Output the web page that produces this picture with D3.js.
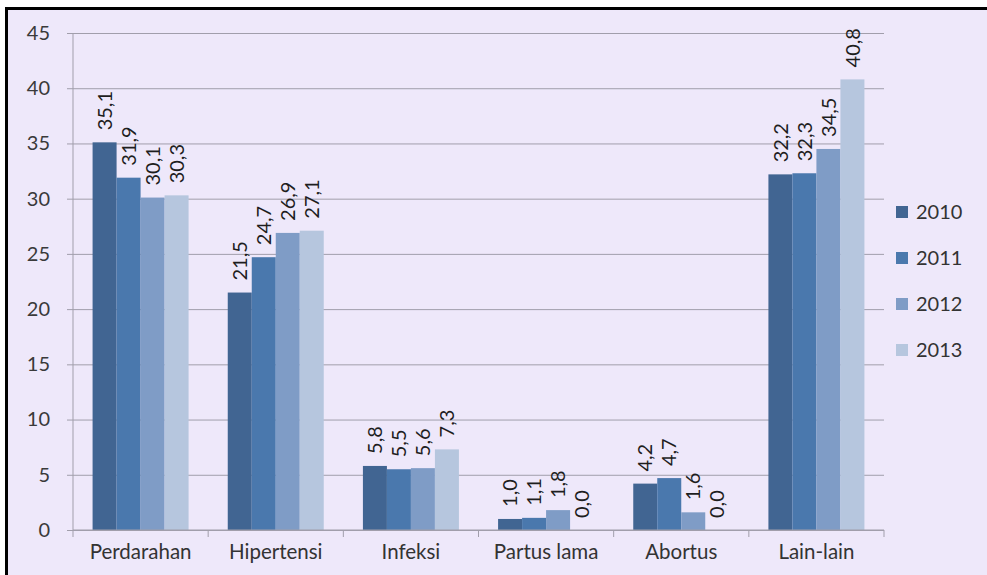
<!DOCTYPE html>
<html>
<head>
<meta charset="utf-8">
<script src="https://cdn.jsdelivr.net/npm/d3@7"></script>
<style>
  html, body { margin: 0; padding: 0; background: #ffffff; }
  svg { display: block; }
  text { font-family: Lato, "Open Sans", sans-serif; }
</style>
</head>
<body>
<svg id="chart" width="987" height="575"></svg>
<script>
const categories = ["Perdarahan", "Hipertensi", "Infeksi", "Partus lama", "Abortus", "Lain-lain"];
const years = ["2010", "2011", "2012", "2013"];
const values2010 = [35.1, 21.5, 5.8, 1.0, 4.2, 32.2];
const values2011 = [31.9, 24.7, 5.5, 1.1, 4.7, 32.3];
const values2012 = [30.1, 26.9, 5.6, 1.8, 1.6, 34.5];
const values2013 = [30.3, 27.1, 7.3, 0.0, 0.0, 40.8];
const yTicks = [0, 5, 10, 15, 20, 25, 30, 35, 40, 45];
const colors = ["#416592", "#4a78ad", "#7f9cc6", "#b6c6de"];

const seriesValues = [values2010, values2011, values2012, values2013];

(function () {
const svg = d3.select("#chart");

// frame + background
svg.append("rect").attr("x", 5).attr("y", 7).attr("width", 990).attr("height", 580)
  .attr("fill", "#eee8fa");
svg.append("line").attr("x1", 6.5).attr("x2", 6.5).attr("y1", 7).attr("y2", 575)
  .attr("stroke", "#000").attr("stroke-width", 3);
svg.append("line").attr("x1", 5).attr("x2", 987).attr("y1", 8.5).attr("y2", 8.5)
  .attr("stroke", "#000").attr("stroke-width", 3);

const mLeft = 73, mRight = 884, mTop = 33, mBottom = 530;

const y = d3.scaleLinear().domain([0, 45]).range([mBottom, mTop]);
const x0 = d3.scaleBand().domain(categories).range([mLeft, mRight]).paddingInner(0).paddingOuter(0);
const bw = x0.bandwidth();
const groupW = 96;
const x1 = d3.scaleBand().domain(years).range([(bw - groupW) / 2, (bw + groupW) / 2]).padding(0);

const gridColor = "#a19eab";

// gridlines via y axis
const yAxis = d3.axisLeft(y).tickValues(yTicks).tickSize(-(mRight - mLeft)).tickSizeOuter(0)
  .tickFormat(d3.format("d"));
const gy = svg.append("g").attr("transform", `translate(${mLeft},0)`).call(yAxis);
gy.select(".domain").remove();
gy.selectAll(".tick line").attr("stroke", gridColor).attr("stroke-width", 1)
  .attr("x1", -6);
gy.selectAll(".tick text").attr("fill", "#3a3a3a").style("font-size", "20px")
  .attr("text-anchor", "end").attr("x", -23);
// y axis line
svg.append("line").attr("x1", mLeft).attr("x2", mLeft).attr("y1", mTop).attr("y2", mBottom)
  .attr("stroke", gridColor);

// bars
const groups = svg.append("g").selectAll("g").data(categories).join("g")
  .attr("transform", d => `translate(${x0(d)},0)`);

groups.each(function(cat, ci) {
  const g = d3.select(this);
  years.forEach((yr, si) => {
    const v = seriesValues[si][ci];
    g.append("rect")
      .attr("x", x1(yr))
      .attr("y", y(v))
      .attr("width", x1.bandwidth())
      .attr("height", mBottom - y(v))
      .attr("fill", colors[si]);
    const cx = x1(yr) + x1.bandwidth() / 2;
    const ty = y(v) - 12;
    g.append("text")
      .attr("transform", `translate(${cx},${ty}) rotate(-90)`)
      .attr("dy", "0.36em")
      .attr("text-anchor", "start")
      .attr("fill", "#1e1e1e")
      .style("font-size", "20px")
      .text(d3.format(".1f")(v).replace(".", ","));
  });
});

// x axis
const xAxis = d3.axisBottom(x0).tickSize(0).tickPadding(14);
const gx = svg.append("g").attr("transform", `translate(0,${mBottom})`).call(xAxis);
gx.select(".domain").attr("stroke", gridColor).attr("d", `M${mLeft},0H${mRight}`);
gx.selectAll(".tick text").attr("fill", "#333").style("font-size", "20.5px");
// category boundary ticks
const bounds = categories.map(c => x0(c)).concat([mRight]);
svg.append("g").selectAll("line").data(bounds).join("line")
  .attr("x1", d => d).attr("x2", d => d).attr("y1", mBottom).attr("y2", mBottom + 7)
  .attr("stroke", gridColor);

// legend
const legend = svg.append("g").attr("transform", "translate(896,212)");
years.forEach((yr, i) => {
  const row = legend.append("g").attr("transform", `translate(0,${i * 46})`);
  row.append("rect").attr("x", 0).attr("y", -6).attr("width", 12).attr("height", 12)
    .attr("fill", colors[i]);
  row.append("text").attr("x", 20).attr("dy", "0.36em").attr("fill", "#333")
    .style("font-size", "20px").text(yr);
});
})();
</script>
</body>
</html>
